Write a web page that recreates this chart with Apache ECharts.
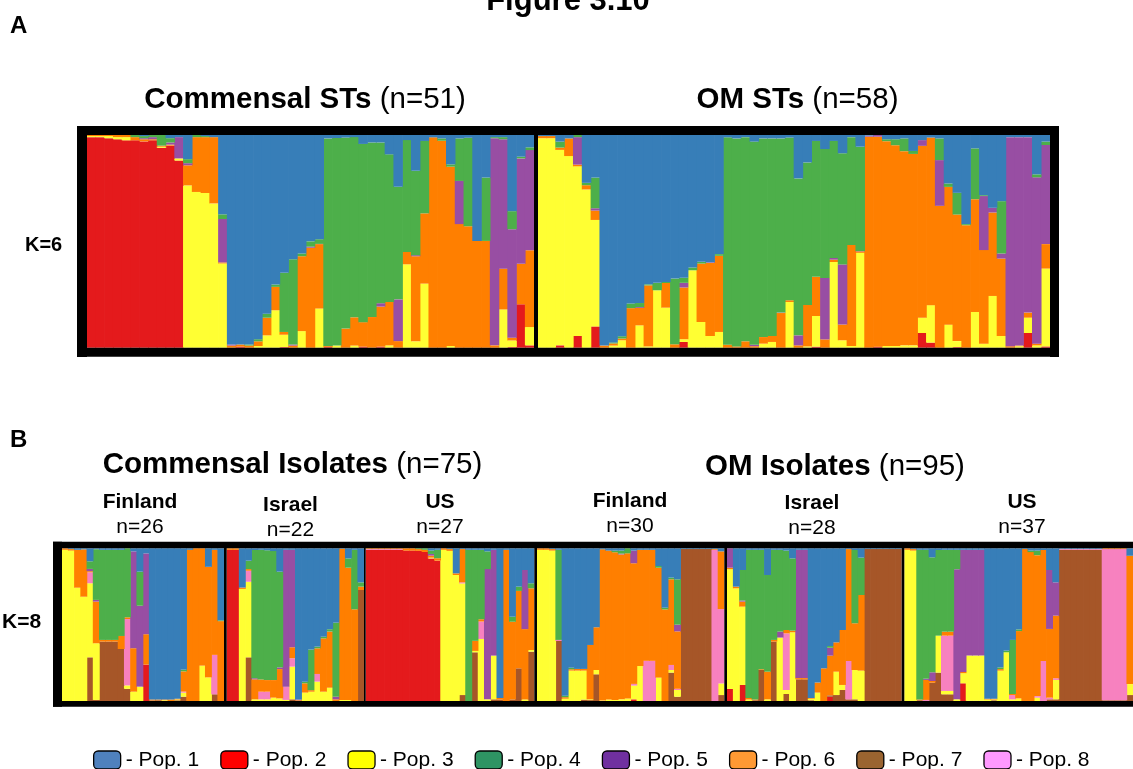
<!DOCTYPE html>
<html>
<head>
<meta charset="utf-8">
<title>Figure 3.10</title>
<script src="https://cdn.jsdelivr.net/npm/echarts@6/dist/echarts.min.js"></script>
<style>
  html, body { margin: 0; padding: 0; background: #fff; }
  #chart { width: 1133px; height: 769px; }
</style>
</head>
<body>
<div id="chart"></div>
<script>
// Cluster membership (Q) per individual. Columns: Pop. 1 .. Pop. 6 (K=6) or Pop. 1 .. Pop. 8 (K=8)
const POP_NAMES = ['Pop. 1', 'Pop. 2', 'Pop. 3', 'Pop. 4', 'Pop. 5', 'Pop. 6', 'Pop. 7', 'Pop. 8'];

// K=6, commensal sequence types (n=51)
const commensalSTs = [
  [0, .99, .005, 0, 0, .005], [0, .99, .005, 0, 0, .005], [0, .985, .01, 0, 0, .005],
  [0, .98, .01, 0, 0, .01], [0, .975, .015, 0, 0, .01], [0, .975, 0, .01, 0, .015],
  [.005, .97, 0, .01, .005, .01], [0, .975, 0, .01, .01, .005], [0, .94, .005, .05, 0, .005],
  [.015, .95, 0, .02, .01, .005], [.01, .88, .01, 0, .1, 0], [.113, 0, .76, .019, .01, .094],
  [0, 0, .73, .01, 0, .257], [.005, 0, .725, .005, 0, .262], [.01, 0, .675, 0, 0, .31],
  [.373, 0, .396, .022, .204, .005], [.985, 0, 0, 0, .005, .01], [.985, .005, 0, 0, 0, .01],
  [.985, 0, 0, .005, 0, .01], [.96, 0, .008, .01, 0, .022], [.84, 0, .058, .019, 0, .083],
  [.703, 0, .176, .011, 0, .11], [.648, .003, .058, .278, 0, .013], [.584, 0, 0, .4, .005, .01],
  [.557, 0, .078, .013, 0, .352], [.5, 0, 0, .025, .005, .47], [.49, 0, .184, .022, .001, .303],
  [.016, .004, 0, .976, 0, .004], [.014, 0, .01, .976, 0, 0], [.012, 0, 0, .898, 0, .09],
  [.01, 0, .01, .848, 0, .133], [.042, .005, 0, .837, 0, .115], [.035, 0, 0, .82, 0, .144],
  [.035, .005, 0, .755, .016, .188], [.091, 0, .011, .694, 0, .204], [.243, 0, 0, .529, .196, .031],
  [.024, 0, .392, .526, 0, .058], [.168, 0, .03, .397, .005, .4], [.028, 0, .301, .34, 0, .33],
  [.011, 0, 0, 0, 0, .989], [.016, 0, 0, .011, 0, .973], [.138, 0, .008, .011, 0, .843],
  [.016, 0, 0, .2, .203, .581], [.013, 0, 0, .416, 0, .571], [.498, 0, 0, 0, 0, .502],
  [.2, 0, 0, .298, 0, .502], [.01, 0, 0, .005, .973, .011], [.01, 0, .18, .01, .609, .192],
  [.358, .003, .031, .085, .51, .013], [.102, .204, 0, .008, .495, .19], [.058, .011, .086, .013, .471, .361]
];

// K=6, otitis media sequence types (n=58)
const omSTs = [
  [.005, 0, .985, 0, 0, .01], [.005, 0, .985, 0, 0, .01], [.031, .011, .918, .028, 0, .011],
  [.016, 0, .901, 0, 0, .083], [0, .055, .796, .01, .129, .008], [.225, 0, .744, .011, 0, .02],
  [.2, .1, .5, .144, .011, .044], [.99, 0, 0, 0, 0, .01], [.975, 0, .01, .005, 0, .01],
  [.946, 0, .035, .011, 0, .008], [.792, 0, 0, .022, 0, .186], [.79, 0, .105, .019, .004, .082],
  [.702, 0, .006, .005, 0, .287], [.695, 0, .27, .035, 0, 0], [.69, 0, .188, .005, 0, .116],
  [.675, 0, 0, .309, 0, .016], [.671, .027, .013, .024, .022, .243], [.623, 0, .364, .013, 0, 0],
  [.597, 0, .121, .008, 0, .275], [.6, 0, .055, 0, .003, .344], [.56, 0, .074, .008, 0, .358],
  [.011, 0, 0, .975, 0, .014], [.016, 0, 0, .978, 0, .006], [.01, 0, 0, .96, 0, .03],
  [.031, 0, 0, .955, .007, .007], [.016, 0, .019, .934, 0, .031], [.016, 0, .027, .929, 0, .028],
  [.016, 0, 0, .819, .002, .163], [.012, 0, .215, .765, 0, .008], [.204, 0, 0, .738, .047, .011],
  [.129, 0, .006, .67, 0, .195], [.028, .005, .144, .639, 0, .184], [.066, 0, 0, .606, .289, .039],
  [.028, 0, .403, .55, .008, .011], [.086, 0, .035, .523, .283, .074], [.01, 0, .008, .507, 0, .474],
  [.055, 0, .446, .49, .002, .007], [.003, 0, 0, 0, .005, .992], [0, .005, 0, 0, .008, .987],
  [.02, 0, .008, .009, 0, .963], [.02, 0, .008, .028, 0, .944], [.016, 0, .011, .06, 0, .913],
  [.075, 0, .011, .014, 0, .9], [.024, .069, .072, 0, .027, .808], [.012, .024, .176, 0, 0, .788],
  [.016, 0, 0, .102, .215, .667], [.228, 0, .108, .016, 0, .648], [.272, .003, .028, .102, 0, .595],
  [.419, 0, 0, .005, 0, .576], [.063, 0, .168, .239, 0, .531], [.283, 0, .019, .004, .254, .44],
  [.342, 0, .243, 0, .022, .392], [.311, 0, .055, .246, .024, .364], [.01, 0, 0, 0, .983, .007],
  [.01, 0, .007, 0, .98, .003], [.01, .069, .072, 0, .824, .024], [.185, 0, .011, .014, .782, .008],
  [.031, .006, .366, .016, .466, .115]
];

// K=8, commensal isolates by country
const commFinland = [
  [0, 0, .99, 0, 0, .01, 0, 0], [.005, 0, .985, 0, 0, .01, 0, 0], [.01, 0, .742, 0, 0, .248, 0, 0],
  [.007, 0, .683, 0, 0, .31, 0, 0], [.085, 0, .485, .05, .015, .007, .286, .072],
  [.006, 0, .371, .332, .011, .273, .007, 0], [.01, 0, 0, .59, 0, .011, .389, 0],
  [.01, 0, 0, .59, 0, .011, .389, 0], [.01, 0, 0, .59, 0, .011, .389, 0],
  [.01, 0, 0, .563, 0, .085, .34, 0], [0, 0, .022, .447, 0, .011, .079, .43],
  [.02, 0, .061, 0, .633, .284, 0, 0], [.153, 0, .094, .223, .53, 0, 0, 0],
  [.033, .236, 0, 0, .524, .197, 0, 0], [.99, 0, 0, 0, 0, .006, .004, 0],
  [.99, 0, 0, 0, 0, .005, .005, 0], [.99, 0, .005, 0, 0, .005, 0, 0], [.99, 0, 0, 0, 0, .01, 0, 0],
  [.985, 0, .005, 0, 0, .005, .005, 0], [.786, 0, .026, .011, 0, .131, .028, .007],
  [.01, 0, 0, 0, 0, .99, 0, 0], [0, 0, 0, 0, 0, .995, 0, 0], [0, 0, .229, 0, 0, .76, 0, 0],
  [.12, 0, .153, 0, 0, .716, 0, 0], [.01, 0, 0, 0, 0, .688, .044, .258], [.469, 0, 0, .005, 0, .52, 0, 0]
];
const commIsrael = [
  [0, .99, 0, 0, 0, .01, 0, 0], [0, .99, 0, 0, 0, .01, 0, 0], [.257, 0, .734, 0, 0, .009, 0, 0],
  [.081, 0, .495, .055, 0, .011, .286, .072], [.011, 0, .011, .84, .007, .131, 0, 0],
  [.01, 0, .011, .849, 0, .08, 0, .05], [.013, 0, .011, .85, 0, .076, 0, .05],
  [.018, 0, .022, .845, 0, .115, 0, 0], [.153, 0, .017, .627, .011, .192, 0, 0],
  [.01, 0, .007, 0, .896, 0, 0, .087], [.01, 0, .214, 0, .638, .072, .011, .055],
  [.99, 0, 0, 0, .005, .005, 0, 0], [.874, 0, .055, .01, 0, .061, 0, 0],
  [.663, 0, .061, .266, 0, .01, 0, 0], [.644, 0, .127, .011, 0, .168, 0, .05],
  [.579, 0, .061, .011, 0, .349, 0, 0], [.53, 0, .087, .015, .001, .367, 0, 0],
  [.487, 0, 0, .485, .017, .011, 0, 0], [.003, 0, .007, 0, 0, .99, 0, 0],
  [.066, 0, .007, .061, 0, .866, 0, 0], [.01, 0, 0, .389, 0, .6, 0, 0], [.223, 0, 0, .028, 0, .022, .727, 0]
];
const commUS = [
  [0, .99, 0, 0, 0, .005, 0, .005], [0, .99, 0, 0, 0, .005, 0, .005], [0, .99, 0, 0, 0, .005, 0, .005],
  [0, .99, 0, 0, 0, .005, 0, .005], [0, .99, 0, 0, 0, .005, 0, .005], [0, .99, 0, 0, 0, .005, 0, .005],
  [0, .985, 0, 0, 0, .015, 0, 0], [0, .985, 0, 0, 0, .015, 0, 0], [0, .983, 0, .005, 0, .012, 0, 0],
  [0, .976, 0, .01, 0, .014, 0, 0], [.015, .934, .005, .022, .011, .013, 0, 0],
  [.01, .919, 0, .055, 0, .016, 0, 0], [0, 0, .99, 0, 0, .01, 0, 0], [.005, 0, .983, 0, 0, .012, 0, 0],
  [.164, 0, .825, 0, 0, .011, 0, 0], [.005, 0, .731, 0, 0, .218, .039, .007],
  [.01, 0, 0, .99, 0, 0, 0, 0], [.01, 0, .009, .596, 0, .066, .319, 0],
  [.01, 0, .406, .454, 0, .015, 0, .114], [.02, 0, .011, .116, .852, 0, 0, 0],
  [.01, 0, .286, 0, .692, 0, .011, 0], [.98, 0, 0, 0, 0, .011, .009, 0], [.01, 0, 0, 0, 0, .99, 0, 0],
  [.448, 0, 0, .033, 0, .509, .01, 0], [.251, 0, 0, .028, 0, .507, .214, 0],
  [.142, 0, .01, 0, .386, .46, 0, 0], [.229, 0, .011, .033, 0, .404, .323, 0]
];

// K=8, otitis media isolates by country
const omFinland = [
  [0, 0, .99, 0, 0, .01, 0, 0], [0, 0, .99, 0, 0, .01, 0, 0], [.005, 0, .985, 0, 0, .01, 0, 0],
  [.01, 0, 0, .59, 0, 0, .393, .007], [.965, 0, .015, .01, 0, .01, 0, 0],
  [.782, 0, .199, .01, 0, .009, 0, 0], [.79, 0, .199, 0, 0, .011, 0, 0], [.79, 0, .19, 0, 0, .011, .009, 0],
  [.633, 0, .005, 0, 0, .356, .006, 0], [.517, 0, .028, 0, 0, .28, .175, 0],
  [.007, 0, .003, 0, 0, .99, 0, 0], [.015, 0, .01, 0, 0, .975, 0, 0], [.015, 0, .007, .011, 0, .967, 0, 0],
  [.015, 0, .011, .02, .005, .949, 0, 0], [0, 0, .017, .033, 0, .95, 0, 0],
  [.015, .011, .09, 0, .083, .79, 0, .011], [.01, 0, .229, 0, 0, .761, 0, 0],
  [.01, 0, 0, 0, 0, .727, 0, .263], [.01, 0, 0, 0, 0, .727, 0, .263], [.116, 0, .153, .011, 0, .72, 0, 0],
  [.389, 0, 0, .011, 0, .6, 0, 0], [.192, 0, .017, .011, 0, .561, .186, .033],
  [.203, 0, .044, .297, .044, .376, .028, .008], [.005, 0, 0, 0, 0, 0, .995, 0],
  [.005, 0, 0, 0, 0, 0, .995, 0], [.005, 0, 0, 0, 0, 0, .995, 0], [.005, 0, 0, 0, 0, 0, .995, 0],
  [.005, 0, 0, 0, 0, 0, .995, 0], [.005, 0, 0, 0, 0, .005, 0, .99], [.02, 0, .076, 0, 0, .378, .039, .487]
];
const omIsrael = [
  [0, .079, .784, 0, .127, .01, 0, 0], [.251, 0, .738, 0, 0, .011, 0, 0],
  [.142, .105, .513, .2, .007, .033, 0, 0], [.01, 0, .01, .97, 0, .01, 0, 0],
  [.01, 0, 0, .98, 0, .005, .005, 0], [.01, 0, 0, .782, 0, .005, .203, 0],
  [.175, 0, .011, .633, 0, .181, 0, 0], [.01, 0, 0, .59, 0, .011, .389, 0],
  [.01, 0, .415, .535, .039, 0, 0, 0], [.015, 0, .026, .52, 0, .022, .046, .371],
  [.066, 0, .45, .473, 0, .011, 0, 0], [.01, 0, 0, 0, .84, .008, .142, 0],
  [.01, 0, 0, 0, .84, .008, .142, 0], [.98, 0, .01, 0, 0, .005, .005, 0],
  [.879, 0, .055, 0, 0, .066, 0, 0], [.786, 0, 0, 0, 0, .214, 0, 0],
  [.64, .028, 0, .011, .052, .26, .009, 0], [.616, 0, .153, 0, 0, .192, .039, 0],
  [.535, 0, .033, 0, 0, .36, .072, 0], [.005, 0, 0, 0, 0, .733, .011, .251],
  [.011, 0, .192, .48, 0, .306, .011, 0], [.061, 0, .199, .245, 0, .495, 0, 0],
  [.005, 0, 0, 0, 0, 0, .995, 0], [.005, 0, 0, 0, 0, 0, .995, 0], [.005, 0, 0, 0, 0, 0, .995, 0],
  [.005, 0, 0, 0, 0, 0, .995, 0], [.005, 0, 0, 0, 0, 0, .995, 0], [.005, 0, 0, 0, 0, 0, .995, 0]
];
const omUS = [
  [0, 0, .99, 0, 0, .01, 0, 0], [.005, 0, .985, 0, 0, .01, 0, 0], [.01, 0, 0, .98, 0, .005, .005, 0],
  [.01, 0, 0, .845, .007, .131, 0, .007], [.059, 0, 0, .753, .057, .011, .12, 0],
  [.011, 0, .242, .561, 0, 0, .186, 0], [.01, 0, .022, .536, 0, .026, .044, .362],
  [.01, 0, .022, .536, 0, .026, .044, .362], [.01, 0, .011, .127, .852, 0, 0, 0],
  [.01, .116, .066, 0, .8, .008, 0, 0], [.01, 0, .297, 0, .692, 0, .001, 0],
  [.01, 0, .297, 0, .692, 0, .001, 0], [.01, 0, .297, 0, .692, 0, .001, 0],
  [.985, 0, .01, 0, 0, .005, 0, 0], [.985, 0, .005, 0, 0, .005, .005, 0],
  [.78, 0, .199, .011, 0, .01, 0, 0], [.67, 0, .319, .011, 0, 0, 0, 0],
  [.6, 0, .011, .354, 0, .007, 0, .028], [.531, 0, .017, .011, 0, .441, 0, 0],
  [.005, 0, 0, 0, 0, .995, 0, 0], [.015, 0, 0, .01, 0, .975, 0, 0],
  [.015, 0, .022, .03, 0, .923, 0, .01], [.011, 0, 0, 0, 0, .727, 0, .262],
  [.142, 0, 0, 0, .386, .45, .011, .011], [.223, 0, .127, 0, .218, .41, .011, .011],
  [.005, 0, 0, 0, 0, 0, .99, .005], [.005, 0, 0, 0, 0, 0, .99, .005], [.005, 0, 0, 0, 0, 0, .99, .005],
  [.005, 0, 0, 0, 0, 0, .99, .005], [.005, 0, 0, 0, 0, 0, .99, .005], [.005, 0, 0, 0, 0, 0, .99, .005],
  [.005, 0, 0, 0, 0, 0, .99, .005], [0, 0, 0, 0, 0, .005, .005, .99], [0, 0, 0, 0, 0, .005, .005, .99],
  [0, 0, 0, 0, 0, .005, .005, .99], [0, 0, 0, 0, 0, .005, .005, .99], [.049, 0, .072, 0, 0, .84, .039, 0]
];

// Drawing colours for the bars and the swatches of the key
const BAR_COLORS = ['#377EB8', '#E41A1C', '#FFFF33', '#4DAF4A', '#984EA3', '#FF7F00', '#A65628', '#F781BF'];
const KEY_COLORS = ['#4F81BD', '#FF0000', '#FFFF00', '#2E9463', '#7030A0', '#FF9933', '#9A6430', '#FF99FF'];
// Segment order within each bar, from the bottom up (population indices)
const STACK_ORDER = [1, 6, 2, 7, 5, 4, 3, 0];

const FONT = "'Liberation Sans', Arial, Helvetica, sans-serif";

// Plot blocks: data and placement of each block of bars
const blocks = [
  { rows: commensalSTs, left: 87, width: 447, top: 135, height: 212.7 },
  { rows: omSTs, left: 538, width: 512, top: 135, height: 212.7 },
  { rows: commFinland, left: 62, width: 162, top: 548.3, height: 152.7 },
  { rows: commIsrael, left: 226.7, width: 137.3, top: 548.3, height: 152.7 },
  { rows: commUS, left: 365.7, width: 168.6, top: 548.3, height: 152.7 },
  { rows: omFinland, left: 537, width: 187.3, top: 548.3, height: 152.7 },
  { rows: omIsrael, left: 727, width: 174.7, top: 548.3, height: 152.7 },
  { rows: omUS, left: 904.3, width: 230.9, top: 548.3, height: 152.7 }
];

const grid = [], xAxis = [], yAxis = [], series = [];
blocks.forEach((b, gi) => {
  grid.push({ left: b.left, top: b.top, width: b.width, height: b.height, containLabel: false });
  xAxis.push({ type: 'category', gridIndex: gi, show: false, data: b.rows.map((_, i) => i + 1) });
  yAxis.push({ type: 'value', gridIndex: gi, show: false, min: 0, max: 1 });
  const k = b.rows[0].length;
  // neighbouring bars overlap by a fraction of a pixel so no seams show between them
  const band = b.width / b.rows.length;
  // Q values of each individual sum to one
  const q = b.rows.map(r => { const s = r.reduce((a, v) => a + v, 0); return r.map(v => v / s); });
  STACK_ORDER.filter(p => p < k).forEach(p => {
    series.push({
      name: POP_NAMES[p], type: 'bar', stack: 'q' + gi,
      xAxisIndex: gi, yAxisIndex: gi,
      barWidth: band + 0.7, barCategoryGap: 0,
      silent: true, animation: false,
      itemStyle: { color: BAR_COLORS[p], borderWidth: 0 },
      data: q.map(r => r[p])
    });
  });
});

const black = { fill: '#000' };
function box(x, y, w, h) { return { type: 'rect', z: 100, silent: true, shape: { x, y, width: w, height: h }, style: black }; }
function label(x, y, text, size, bold, align) {
  return { type: 'text', z: 100, silent: true, style: {
    x, y, text, fill: '#000', fontFamily: FONT, fontSize: size, fontWeight: bold ? 'bold' : 'normal',
    align: align || 'center', verticalAlign: 'middle' } };
}
function title(x, y, bold, plain) {
  return { type: 'text', z: 100, silent: true, style: {
    x, y, text: '{b|' + bold + '}{r| ' + plain + '}', align: 'center', verticalAlign: 'middle',
    rich: { b: { fontFamily: FONT, fontSize: 29.5, fontWeight: 'bold', fill: '#000' },
            r: { fontFamily: FONT, fontSize: 29.5, fill: '#000' } } } };
}

const graphics = [
  // panel A frame and divider
  box(77, 126, 982, 9), box(77, 347.7, 982, 9), box(77, 126, 10, 231), box(1050, 126, 9, 231),
  box(534, 135, 4, 213),
  // panel B frame and dividers
  box(53, 541.7, 1090, 6.6), box(53, 701, 1090, 5.8), box(53, 541.7, 9, 165),
  box(224, 548, 2.7, 153), box(364, 548, 1.7, 153), box(534.3, 548, 2.7, 153),
  box(724.3, 548, 2.7, 153), box(901.7, 548, 2.6, 153),
  // headings
  label(568, 1, 'Figure 3.10', 31, true),
  label(10, 26, 'A', 24, true, 'left'),
  label(10, 440, 'B', 24, true, 'left'),
  title(305, 100, 'Commensal STs', '(n=51)'),
  title(797.5, 100, 'OM STs', '(n=58)'),
  label(25, 245, 'K=6', 20, true, 'left'),
  title(292.5, 465, 'Commensal Isolates', '(n=75)'),
  title(835, 467, 'OM Isolates', '(n=95)'),
  label(140, 502, 'Finland', 21, true), label(140, 527, 'n=26', 21, false),
  label(290.5, 505, 'Israel', 21, true), label(290.5, 530, 'n=22', 21, false),
  label(440, 502, 'US', 21, true), label(440, 527, 'n=27', 21, false),
  label(630, 501, 'Finland', 21, true), label(630, 526, 'n=30', 21, false),
  label(812, 503, 'Israel', 21, true), label(812, 528, 'n=28', 21, false),
  label(1022, 502, 'US', 21, true), label(1022, 527, 'n=37', 21, false),
  label(2, 622, 'K=8', 21, true, 'left')
];

const chart = echarts.init(document.getElementById('chart'), null, { renderer: 'canvas' });
chart.setOption({
  animation: false,
  backgroundColor: '#fff',
  grid, xAxis, yAxis, series,
  legend: {
    left: 93, top: 749.5, orient: 'horizontal', padding: 0,
    itemWidth: 27, itemHeight: 18, itemGap: 21,
    selectedMode: false,
    formatter: '- {name}',
    textStyle: { fontFamily: FONT, fontSize: 21, color: '#000' },
    data: POP_NAMES.map((n, i) => ({
      name: n, icon: 'roundRect',
      itemStyle: { color: KEY_COLORS[i], borderColor: '#000', borderWidth: 1.3 }
    }))
  },
  graphic: graphics
});
</script>
</body>
</html>
